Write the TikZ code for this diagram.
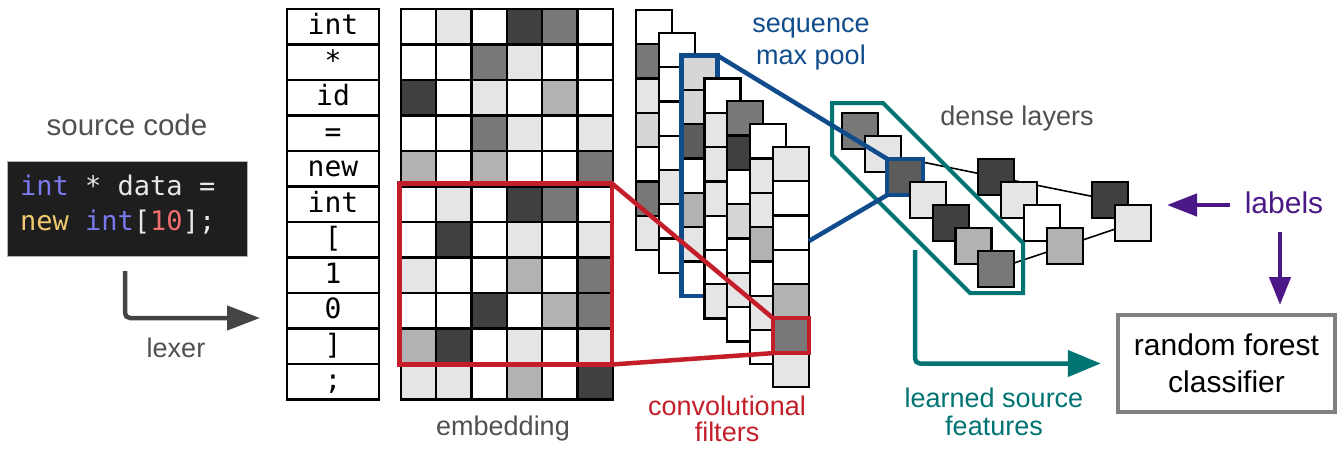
\documentclass[tikz,border=0pt]{standalone}
\usepackage{fontspec}
\setmainfont{Liberation Sans}
\setmonofont{DejaVu Sans Mono}
\usetikzlibrary{arrows.meta}
\definecolor{cred}{RGB}{196,30,42}
\definecolor{cblue}{RGB}{16,76,140}
\definecolor{cteal}{RGB}{0,115,115}
\definecolor{cpurple}{RGB}{75,25,135}
\definecolor{ctext}{RGB}{80,80,80}
\definecolor{cdark}{RGB}{68,68,68}
\definecolor{cbox}{RGB}{128,128,128}
\definecolor{codebg}{RGB}{30,30,30}
\definecolor{ckw}{RGB}{122,122,240}
\definecolor{cnew}{RGB}{240,200,110}
\definecolor{cnum}{RGB}{240,110,110}
\definecolor{ccode}{RGB}{232,232,232}
\definecolor{sh0}{gray}{1}
\definecolor{sh1}{gray}{0.9}
\definecolor{sh2}{gray}{0.84}
\definecolor{sh3}{gray}{0.70}
\definecolor{sh4}{gray}{0.47}
\definecolor{sh5}{gray}{0.36}
\definecolor{sh6}{gray}{0.25}
\pgfdeclarelayer{bg}
\pgfsetlayers{bg,main}
\begin{document}
\begin{tikzpicture}[x=1pt,y=-1pt,
  cell/.style={draw=black,line width=2.3pt,minimum width=35.33pt,minimum height=35.5pt,anchor=north west,inner sep=0pt,outer sep=0pt},
  tokcell/.style={cell,minimum width=92pt,font=\ttfamily\fontsize{28}{28}\selectfont,text height=21pt,text depth=5pt},
  scell/.style={cell,minimum width=36pt,minimum height=34.3pt},
  dsq/.style={cell,minimum width=36pt,minimum height=36pt},
  bluebox/.style={draw=cblue,line width=4.5pt,minimum width=36pt,minimum height=240.1pt,anchor=north west,inner sep=0pt,outer sep=0pt},
  blueline/.style={draw=cblue,line width=4.5pt},
  redline/.style={draw=cred,line width=4.5pt},
  lbl/.style={font=\fontsize{27}{28}\selectfont,inner sep=0pt,anchor=base},
  codeline/.style={font=\ttfamily\fontsize{27}{27}\selectfont,text=ccode,inner sep=0pt,anchor=base west},
]
\useasboundingbox (0,0) rectangle (1341,450);

% source code
\node[lbl,text=ctext,font=\fontsize{29.5}{30}\selectfont] (srclbl) at (127,135) {source code};
\node[draw=gray!60,line width=0.8pt,fill=codebg,minimum width=240pt,minimum height=95pt,anchor=north west,inner sep=0pt] (code) at (7,161) {};
\node[codeline] (code1) at (20,195) {\textcolor{ckw}{int} * data =};
\node[codeline] (code2) at (20,230) {\textcolor{cnew}{new} \textcolor{ckw}{int}[\textcolor{cnum}{10}];};

% lexer arrow
\coordinate (lexA) at (125,271);
\coordinate (lexB) at (260,318);
\draw[cdark,line width=4.5pt,rounded corners=5pt,-{Triangle[length=33pt,width=24pt]}] (lexA) |- (lexB);
\node[lbl,text=ctext] (lexlbl) at (176,357) {lexer};

% tokens
\foreach \t [count=\i] in {int,*,id,=,new,int,{[},1,0,{]},{;}} {
  \node[tokcell] (tok\i) at (287,{9+35.5*(\i-1)}) {\t};
}

% embedding
\foreach \row [count=\r] in {{0,1,0,6,4,0},{0,0,4,1,0,0},{6,0,1,0,3,0},{0,0,4,1,0,1},{3,0,3,0,0,4},{0,1,0,6,4,0},{0,6,0,1,0,1},{1,0,0,3,0,4},{0,0,6,0,3,4},{3,6,0,1,0,1},{1,1,0,3,0,6}} {
  \foreach \v [count=\c] in \row {
    \node[cell,fill=sh\v] (e\r-\c) at ({400.7+35.33*(\c-1)},{9+35.5*(\r-1)}) {};
  }
}
\node[lbl,text=ctext] (emblbl) at (503,435) {embedding};

% convolution stacks
\foreach \col [count=\k] in {{0,4,1,2,0,4,1},{0,0,0,0,1,0,0},{2,2,5,0,3,1,0},{0,1,1,1,0,0,1},{4,6,0,2,0,1,0},{0,1,1,3,0,1,0},{1,0,0,0,3,4,1}} {
  \foreach \v [count=\j] in \col {
    \node[scell,fill=sh\v] (s\k-\j) at ({636+22.83*(\k-1)},{10+22.83*(\k-1)+34.3*(\j-1)}) {};
  }
  \ifnum\k=3
    \node[bluebox] (poolcol) at (681.66,55.66) {};
  \fi
}

% dense layers
\foreach \v [count=\i] in {4,1,5,1,6,3,4} {
  \ifnum\i=3
    \node[dsq,fill=sh\v,draw=cblue,line width=4.2pt] (d\i) at ({842+22.67*(\i-1)},{113+23*(\i-1)}) {};
  \else
    \node[dsq,fill=sh\v] (d\i) at ({842+22.67*(\i-1)},{113+23*(\i-1)}) {};
  \fi
}
\foreach \v/\n [count=\i] in {6/A,1/B,0/C,3/D} {
  \node[dsq,fill=sh\v] (d\n) at ({978+23*(\i-1)},{159+23*(\i-1)}) {};
}
\node[dsq,fill=sh6] (dE) at (1092,182) {};
\node[dsq,fill=sh1] (dF) at (1115,205) {};
\begin{pgfonlayer}{bg}
  \draw[line width=1.6pt] (d2.center) -- (dA.center);
  \draw[line width=1.6pt] (dA.center) -- (dE.center);
  \draw[line width=1.6pt] (d7.center) -- (dD.center);
  \draw[line width=1.6pt] (dD.center) -- (dF.center);
\end{pgfonlayer}
\node[lbl,text=ctext] (denselbl) at (1017,125) {dense layers};

% learned features outline
\draw[cteal,line width=4pt] (832,103) -- (883,103) -- (1023,243) -- (1023,293) -- (970,293) -- (832,155) -- cycle;

% sequence max pool
\coordinate (bp) at (809,241);
\draw[blueline] (poolcol.north east) -- (d3.north west);
\draw[blueline] (bp) -- (d3.south west);
\node[lbl,text=cblue] (seq1) at (811,32) {sequence};
\node[lbl,text=cblue] (seq2) at (811,64) {max pool};

% convolutional filters
\node[draw=cred,line width=4.5pt,minimum width=212.5pt,minimum height=181pt,anchor=north west,inner sep=0pt,outer sep=0pt] (redbox) at (399.5,183.5) {};
\node[draw=cred,line width=4.5pt,minimum width=36pt,minimum height=35pt,inner sep=0pt,outer sep=0pt] (redsm) at (s7-6.center) {};
\draw[redline] (redbox.north east) -- (redsm.north west);
\draw[redline] (redbox.south east) -- (redsm.south west);
\node[lbl,text=cred] (conv1) at (727,415) {convolutional};
\node[lbl,text=cred] (conv2) at (727,441) {filters};

% classifier
\node[draw=cbox,line width=4.5pt,minimum width=217pt,minimum height=97pt,font=\fontsize{30}{37}\selectfont,align=center,inner sep=0pt] (rf) at (1226.5,363.5) {random forest\\classifier};
\coordinate (tA) at (915,250);
\draw[cteal,line width=4.5pt,rounded corners=5pt,-{Triangle[length=33pt,width=26pt]}] (tA) |- ([xshift=-15pt]rf.west);
\node[lbl,text=cteal] (feat1) at (994,407) {learned source};
\node[lbl,text=cteal] (feat2) at (994,435) {features};

% labels
\node[lbl,text=cpurple,font=\fontsize{30}{30}\selectfont] (labels) at (1284,213) {labels};
\coordinate (labA) at (1230,205);
\coordinate (labB) at (1167,205);
\coordinate (labC) at (1280,232);
\coordinate (labD) at (1280,305);
\draw[cpurple,line width=4.5pt,-{Triangle[length=30pt,width=22pt]}] (labA) -- (labB);
\draw[cpurple,line width=4.5pt,-{Triangle[length=28pt,width=21pt]}] (labC) -- (labD);
\end{tikzpicture}
\end{document}
